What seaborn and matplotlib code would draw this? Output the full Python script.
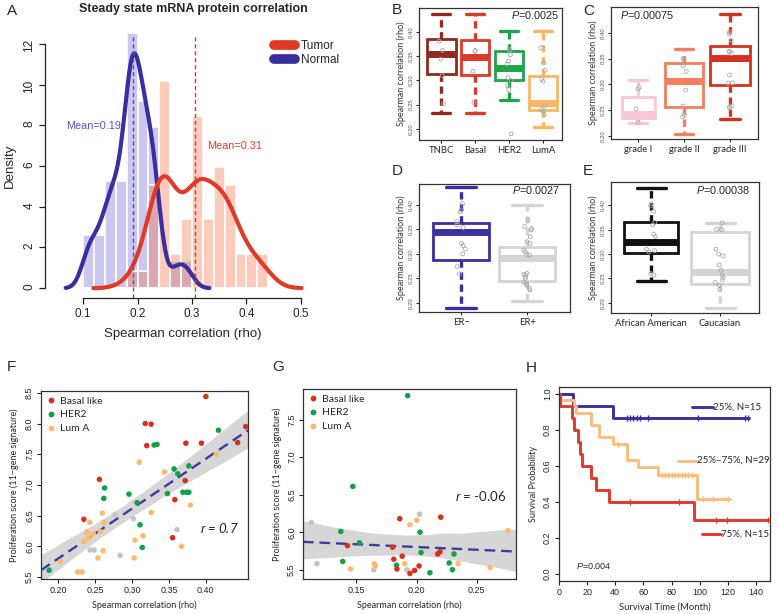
"""Painel de figuras: correlação mRNA-proteína, boxplots por subtipo, regressões e curvas de sobrevida."""

import matplotlib
matplotlib.use("Agg")
import matplotlib.pyplot as plt
from matplotlib.lines import Line2D
import numpy as np
import pandas as pd
import seaborn as sns

# ==========================================
# DADOS
# ==========================================

# Painel A: histogramas (contagens por bin de 0.02)
hist_edges = [0.10, 0.12, 0.14, 0.16, 0.18, 0.20, 0.22, 0.24, 0.26,
              0.28, 0.30, 0.32, 0.34, 0.36, 0.38, 0.40, 0.42, 0.44]
tumor_counts = [0, 0, 0, 0, 1, 1, 6, 12, 2, 4, 10, 4, 7, 6, 2, 2, 2]
normal_counts = [2, 2, 4, 4, 11, 7, 6, 0, 1, 1, 0, 0, 0, 0, 0, 0, 0]

# Painel B: subtipos
B_groups = ["TNBC", "Basal", "HER2", "LumA"]
B_q1 = [0.314, 0.312, 0.300, 0.2385]
B_med = [0.355, 0.348, 0.326, 0.254]
B_q3 = [0.386, 0.383, 0.360, 0.309]
B_lo = [0.233, 0.233, 0.259, 0.204]
B_hi = [0.438, 0.438, 0.403, 0.401]
B_points = [
    [0.381, 0.362, 0.344, 0.310, 0.252],
    [0.362, 0.360, 0.319, 0.254],
    [0.365, 0.362, 0.353, 0.340, 0.334, 0.306, 0.300, 0.289, 0.281, 0.190],
    [0.367, 0.336, 0.321, 0.302, 0.298, 0.247, 0.240, 0.236, 0.230],
]

# Painel C: grau
C_groups = ["grade I", "grade II", "grade III"]
C_q1 = [0.234, 0.256, 0.298]
C_med = [0.242, 0.307, 0.352]
C_q3 = [0.275, 0.342, 0.374]
C_lo = [0.226, 0.204, 0.2335]
C_hi = [0.308, 0.368, 0.436]
C_points = [
    [0.294, 0.291, 0.252, 0.226],
    [0.350, 0.348, 0.336, 0.325, 0.289, 0.258, 0.240, 0.237],
    [0.402, 0.398, 0.386, 0.364, 0.363, 0.360, 0.318, 0.303, 0.302, 0.258, 0.256, 0.254],
]

# Painel D: receptor de estrogénio
D_groups = ["ER\u2212", "ER+"]
D_q1 = [0.287, 0.2444]
D_med = [0.344, 0.291]
D_q3 = [0.3625, 0.3147]
D_lo = [0.190, 0.204]
D_hi = [0.436, 0.400]
D_points = [
    [0.403, 0.390, 0.386, 0.366, 0.359, 0.354, 0.3215, 0.317, 0.310, 0.300, 0.274, 0.259],
    [0.369, 0.356, 0.352, 0.349, 0.335, 0.325, 0.3215, 0.308, 0.304, 0.299, 0.298,
     0.260, 0.258, 0.257, 0.253, 0.250, 0.242, 0.2396, 0.236, 0.229, 0.226],
]

# Painel E: etnia
E_groups = ["African American", "Caucasian"]
E_q1 = [0.303, 0.238]
E_med = [0.324, 0.264]
E_q3 = [0.3656, 0.345]
E_lo = [0.245, 0.190]
E_hi = [0.436, 0.3636]
E_points = [
    [0.403, 0.399, 0.388, 0.365, 0.360, 0.341, 0.336, 0.310, 0.307, 0.3045, 0.260, 0.257],
    [0.3636, 0.351, 0.350, 0.310, 0.300, 0.296, 0.278, 0.267, 0.257, 0.252, 0.247, 0.242, 0.236, 0.2275],
]

# Painel F: proliferação vs correlação (tumor)
F_basal_x = [0.400, 0.454, 0.318, 0.326, 0.320, 0.373, 0.394, 0.443, 0.372, 0.256, 0.358, 0.235, 0.355]
F_basal_y = [8.44, 7.95, 8.00, 7.99, 7.64, 7.68, 7.68, 7.69, 7.07, 7.09, 6.76, 6.44, 6.14]
F_her2_x = [0.417, 0.330, 0.334, 0.357, 0.362, 0.377, 0.263, 0.262, 0.296, 0.307, 0.348,
            0.369, 0.374, 0.377, 0.311, 0.314, 0.188]
F_her2_y = [7.89, 7.65, 7.66, 7.26, 7.18, 7.31, 6.95, 6.78, 6.85, 6.71, 6.86,
            6.88, 6.88, 6.88, 6.35, 5.98, 5.61]
F_luma_x = [0.310, 0.344, 0.414, 0.379, 0.326, 0.260, 0.262, 0.243, 0.257, 0.239, 0.247,
            0.241, 0.236, 0.304, 0.315, 0.261, 0.254, 0.303, 0.367, 0.203, 0.2265, 0.2325]
F_luma_y = [7.37, 7.21, 7.50, 6.67, 6.55, 6.54, 6.39, 6.39, 6.24, 6.23, 6.20,
            6.13, 6.08, 6.10, 6.17, 5.93, 5.81, 5.81, 6.00, 5.75, 5.58, 5.58]
F_other_x = [0.277, 0.302, 0.361, 0.2435, 0.249, 0.284]
F_other_y = [6.52, 6.45, 6.27, 5.94, 5.94, 5.85]

# Painel G: proliferação vs correlação (normal)
G_basal_x = [0.1425, 0.180, 0.181, 0.188, 0.1836, 0.186, 0.1944, 0.1983, 0.202, 0.2175, 0.2194, 0.220]
G_basal_y = [5.82, 5.80, 5.64, 5.68, 5.51, 6.18, 5.45, 5.49, 5.55, 5.71, 5.74, 6.20]
G_her2_x = [0.1925, 0.147, 0.137, 0.1525, 0.1386, 0.1833, 0.2028, 0.2036, 0.211, 0.227, 0.231, 0.2297]
G_her2_y = [7.82, 6.61, 6.01, 5.86, 5.61, 5.56, 6.00, 5.73, 5.46, 5.59, 5.71, 5.50]
G_luma_x = [0.1944, 0.200, 0.1647, 0.1656, 0.145, 0.190, 0.2344, 0.261, 0.2758]
G_luma_y = [6.10, 6.16, 5.58, 5.55, 5.51, 5.58, 5.58, 5.53, 6.02]
G_other_x = [0.1125, 0.1172, 0.1644, 0.1919, 0.2025]
G_other_y = [6.13, 5.58, 5.50, 5.50, 6.24]

# Painel H: Kaplan-Meier
km_low_t = [0, 10.2, 38.2, 135.3]
km_low_s = [1.0, 0.933, 0.867, 0.867]
km_low_cens = [48.1, 50.5, 52.6, 55.2, 57.6, 63.2, 98.8, 132.2, 134.4]
km_mid_t = [0, 1.0, 10.4, 12.3, 22.8, 28.5, 38.6, 48.1, 56.4, 70.6, 97.9, 121.6]
km_mid_s = [1.0, 0.966, 0.931, 0.897, 0.826, 0.759, 0.724, 0.633, 0.592, 0.549, 0.413, 0.413]
km_mid_cens = [42.2, 73.0, 75.4, 77.7, 80.0, 82.4, 84.8, 87.1, 89.5, 91.9, 94.2, 102.6, 109.7, 120.4]
km_high_t = [0, 0.4, 9.0, 10.7, 13.5, 15.2, 16.4, 23.0, 26.6, 35.8, 96.0, 148.6]
km_high_s = [1.0, 0.933, 0.867, 0.8, 0.733, 0.667, 0.6, 0.533, 0.467, 0.4, 0.3, 0.3]
km_high_cens = [50.5, 85.3, 111.4, 119.7, 148.6]

# ==========================================
# ESTILO
# ==========================================

sns.set_theme(style="ticks")
plt.rcParams["font.family"] = ["Liberation Sans", "DejaVu Sans"]
plt.rcParams["mathtext.fontset"] = "custom"
plt.rcParams["mathtext.rm"] = "Liberation Sans"
plt.rcParams["mathtext.it"] = "Liberation Sans:italic"
MYRIAD = ["Lato", "DejaVu Sans"]

AZUL = "#3B2F9F"
VERMELHO = "#E03A26"
np.random.seed(7)

W, H = 778, 614
fig = plt.figure(figsize=(W / 100, H / 100), dpi=100, facecolor="white")


def add_ax(x0, y0, x1, y1):
    return fig.add_axes([x0 / W, 1 - y1 / H, (x1 - x0) / W, (y1 - y0) / H])


def letra(x, y, s):
    fig.text(x / W, 1 - y / H, s, fontsize=11, ha="left", va="center")


def moldura(ax, lw=0.9):
    for sp in ax.spines.values():
        sp.set_visible(True)
        sp.set_linewidth(lw)
        sp.set_color("#333333")


# ==========================================
# PAINEL A
# ==========================================

axA = add_ax(45, 34, 320, 298)
edges = np.array(hist_edges)
mids = (edges[:-1] + edges[1:]) / 2
tumor = np.repeat(mids, tumor_counts)
normal = np.repeat(mids, normal_counts)

sns.histplot(x=normal, bins=edges, stat="density", color="#6B5FD8", alpha=0.35,
             edgecolor="white", linewidth=1.2, ax=axA)
sns.histplot(x=tumor, bins=edges, stat="density", color="#F86A3E", alpha=0.35,
             edgecolor="white", linewidth=1.2, ax=axA)
sns.kdeplot(x=normal, bw_adjust=0.74, color=AZUL, lw=3, ax=axA)
sns.kdeplot(x=tumor, bw_adjust=0.9, color=VERMELHO, lw=3, ax=axA)
axA.axvline(normal.mean(), color="#5B4DC8", lw=1, ls=(0, (3, 2)))
axA.axvline(tumor.mean(), color=VERMELHO, lw=1, ls=(0, (3, 2)))
axA.text(0.12, 7.95, f"Mean={normal.mean():.2f}", color="#5B4DC8", fontsize=7.8, ha="center", va="center")
axA.text(0.378, 7.0, f"Mean={tumor.mean():.2f}", color=VERMELHO, fontsize=7.8, ha="center", va="center")

axA.set_xlim(0.03, 0.535)
axA.set_ylim(-0.48, 12.48)
for lado in ["top", "right"]:
    axA.spines[lado].set_visible(False)
axA.spines["left"].set_bounds(0, 12)
axA.spines["bottom"].set_bounds(0.1, 0.5)
for lado in ["left", "bottom"]:
    axA.spines[lado].set_linewidth(0.9)
    axA.spines[lado].set_color("#222222")
axA.set_xticks([0.1, 0.2, 0.3, 0.4, 0.5])
axA.set_yticks([0, 2, 4, 6, 8, 10, 12])
axA.tick_params(axis="both", length=4, width=0.9, labelsize=8.5, colors="#222222", pad=3)
axA.tick_params(axis="y", labelrotation=90)
axA.set_xlabel("Spearman correlation (rho)", fontsize=9.5, labelpad=6)
axA.set_ylabel("Density", fontsize=9.5, labelpad=5)

handles = [Line2D([], [], color=VERMELHO, lw=7, solid_capstyle="round"),
           Line2D([], [], color=AZUL, lw=7, solid_capstyle="round")]
axA.legend(handles, ["Tumor", "Normal"], loc="upper left", frameon=False, fontsize=8.5,
           bbox_to_anchor=(274 / W, 1 - 40 / H), bbox_transform=fig.transFigure,
           borderpad=0, borderaxespad=0, handlelength=1.8, handletextpad=0.5, labelspacing=0.2)

fig.text(193 / W, 1 - 9 / H, "Steady state mRNA protein correlation", fontsize=9,
         fontweight="bold", ha="center", va="center")
letra(7, 11, "A")


# ==========================================
# PAINÉIS B-E
# ==========================================

def painel_box(ax, grupos, q1, med, q3, lo, hi, pontos, cores, larguras, capw,
               xlim, ylim, pval, p_xy, p_ha):
    df = pd.DataFrame({
        "grupo": np.repeat(grupos, [len(p) for p in pontos]),
        "rho": np.concatenate(pontos),
    })
    sns.stripplot(data=df, x="grupo", y="rho", order=grupos, color="#aaaaaa",
                  size=2.8, jitter=0.07, ax=ax, zorder=5)
    for coll in ax.collections:
        coll.set_facecolor("none")
        coll.set_edgecolor("#a9a9a9")
        coll.set_linewidth(0.6)

    stats = [dict(med=m, q1=a, q3=b, whislo=l, whishi=h, fliers=[])
             for m, a, b, l, h in zip(med, q1, q3, lo, hi)]
    bp = ax.bxp(stats, positions=range(len(grupos)), widths=larguras, capwidths=capw,
                patch_artist=True, manage_ticks=False, showfliers=False)
    for i, c in enumerate(cores):
        bp["boxes"][i].set(facecolor="white", edgecolor=c, linewidth=2.0)
        bp["medians"][i].set(color=c, linewidth=5, solid_capstyle="butt")
        for w in bp["whiskers"][2 * i:2 * i + 2]:
            w.set(color=c, linewidth=2.4, linestyle=(0, (2.2, 1.4)))
        for cp in bp["caps"][2 * i:2 * i + 2]:
            cp.set(color=c, linewidth=2.4)

    ax.set_xlim(*xlim)
    ax.set_ylim(*ylim)
    ax.set_xticks(range(len(grupos)))
    ax.set_xticklabels(grupos, fontsize=6.8, family=MYRIAD)
    ax.set_yticks([0.20, 0.25, 0.30, 0.35, 0.40])
    ax.set_yticklabels(["0.20", "0.25", "0.30", "0.35", "0.40"], fontsize=4.3,
                       color="#555555", rotation=90, va="center")
    ax.tick_params(axis="both", length=2.5, width=0.8, pad=1.5)
    ax.set_xlabel("")
    ax.set_ylabel("Spearman correlation (rho)", fontsize=6.5, family=MYRIAD, labelpad=2, color="#333333")
    moldura(ax)
    ax.text(p_xy[0], p_xy[1], "$P$=" + pval, transform=ax.transAxes, fontsize=7.8,
            ha=p_ha, va="center")


axB = add_ax(419, 8, 562, 140)
painel_box(axB, B_groups, B_q1, B_med, B_q3, B_lo, B_hi, B_points,
           ["#8C2B1E", "#DA3A2C", "#1FA34A", "#F9B664"], 0.85, 0.53,
           (-0.65, 3.56), (0.177, 0.4495), "0.0025", (0.985, 0.945), "right")
letra(392, 10, "B")

axC = add_ax(611, 7, 758, 139)
painel_box(axC, C_groups, C_q1, C_med, C_q3, C_lo, C_hi, C_points,
           ["#F8C8D4", "#F2805F", "#D6301E"], [0.72, 0.83, 0.85], [0.4, 0.4, 0.43],
           (-0.59, 2.61), (0.194, 0.45), "0.00075", (0.06, 0.94), "left")
letra(583, 11, "C")

axD = add_ax(419, 184, 570, 312)
painel_box(axD, D_groups, D_q1, D_med, D_q3, D_lo, D_hi, D_points,
           [AZUL, "#D4D4D4"], 0.85, 0.45,
           (-0.64, 1.65), (0.181, 0.443), "0.0027", (0.935, 0.95), "right")
letra(392, 171, "D")

axE = add_ax(611, 182, 759, 313)
painel_box(axE, E_groups, E_q1, E_med, E_q3, E_lo, E_hi, E_points,
           ["#111111", "#D4D4D4"], [0.78, 0.83], 0.42,
           (-0.58, 1.565), (0.179, 0.448), "0.00038", (0.94, 0.94), "right")
letra(583, 171, "E")


# ==========================================
# PAINÉIS F-G
# ==========================================

CORES_GRUPO = {"Basal like": "#D7301F", "HER2": "#12A04A", "Lum A": "#FDBA6F", "other": "#C4C4C4"}


def painel_disp(ax, grupos_xy, xlim, ylim, xt, yt, r_txt, r_xy, seed):
    ax.set_xlim(*xlim)
    ax.set_ylim(*ylim)
    todos_x = np.concatenate([g[0] for g in grupos_xy.values()])
    todos_y = np.concatenate([g[1] for g in grupos_xy.values()])
    sns.regplot(x=todos_x, y=todos_y, scatter=False, truncate=False, ci=95, seed=seed,
                line_kws=dict(color="#3B3BA0", lw=1.7, ls=(0, (4.5, 2.5))), ax=ax)
    for coll in ax.collections:
        coll.set_facecolor("#D6D6D6")
        coll.set_alpha(1)
        coll.set_edgecolor("none")
        coll.set_zorder(0)
    for nome in ["other", "Lum A", "HER2", "Basal like"]:
        gx, gy = grupos_xy[nome]
        sns.scatterplot(x=gx, y=gy, color=CORES_GRUPO[nome], s=16, edgecolor="none",
                        ax=ax, zorder=3, legend=False)
    ax.set_xlim(*xlim)
    ax.set_ylim(*ylim)
    ax.set_xticks(xt)
    ax.set_xticklabels([f"{v:.2f}" for v in xt], fontsize=6.5)
    ax.set_yticks(yt)
    ax.set_yticklabels([f"{v:.1f}" for v in yt], fontsize=6.5, rotation=90, va="center")
    ax.tick_params(axis="both", length=3, width=0.8, pad=2, colors="#222222")
    ax.set_xlabel("Spearman correlation (rho)", fontsize=6.5, family=MYRIAD, labelpad=4)
    ax.set_ylabel("Proliferation score (11\u2212gene signature)", fontsize=6.5,
                  family=MYRIAD, labelpad=4)
    moldura(ax)
    hs = [Line2D([], [], ls="", marker="o", markersize=4.2, markeredgewidth=0,
                 color=CORES_GRUPO[n]) for n in ["Basal like", "HER2", "Lum A"]]
    ax.legend(hs, ["Basal like", "HER2", "Lum A"], loc="upper left", frameon=False,
              prop=dict(family=MYRIAD, size=7.5), handlelength=1.0, handletextpad=0.3,
              labelspacing=0.45, borderaxespad=0.3, borderpad=0.2)
    ax.text(r_xy[0], r_xy[1], r_txt, fontsize=9.5, family=MYRIAD, ha="left", va="center")


axF = add_ax(41, 391, 248, 579)
painel_disp(axF, {"Basal like": (F_basal_x, F_basal_y), "HER2": (F_her2_x, F_her2_y),
                  "Lum A": (F_luma_x, F_luma_y), "other": (F_other_x, F_other_y)},
            (0.177, 0.457), (5.467, 8.53), [0.20, 0.25, 0.30, 0.35, 0.40],
            [5.5, 6.0, 6.5, 7.0, 7.5, 8.0, 8.5], r"$r$ = 0.7", (0.392, 6.3), 11)
for t in axF.texts:
    t.set_style("italic")
letra(7, 367, "F")

axG = add_ax(303, 389, 516, 579)
painel_disp(axG, {"Basal like": (G_basal_x, G_basal_y), "HER2": (G_her2_x, G_her2_y),
                  "Lum A": (G_luma_x, G_luma_y), "other": (G_other_x, G_other_y)},
            (0.1056, 0.2825), (5.376, 7.909), [0.15, 0.20, 0.25],
            [5.5, 6.0, 6.5, 7.0, 7.5], r"$r$ = -0.06", (0.232, 6.48), 5)
letra(272, 367, "G")


# ==========================================
# PAINEL H
# ==========================================

axH = add_ax(559, 387, 770, 581)
curvas = [
    (km_low_t, km_low_s, km_low_cens, AZUL),
    (km_mid_t, km_mid_s, km_mid_cens, "#FBBE7C"),
    (km_high_t, km_high_s, km_high_cens, "#E0392B"),
]
for t, s, cens, c in curvas:
    sns.lineplot(x=t, y=s, drawstyle="steps-post", color=c, lw=2.1, ax=axH)
    idx = np.searchsorted(t, cens, side="right") - 1
    axH.plot(cens, np.asarray(s)[idx], ls="", marker="|", ms=4, mew=1, color=c)

rotulos = [("25%, N=15", AZUL, 94.8, 109.7, 0.927),
           ("25%\u201375%, N=29", "#FBBE7C", 84.4, 97.9, 0.629),
           ("75%, N=15", "#E0392B", 101.9, 114.9, 0.22)]
for txt, c, xa, xb, yy in rotulos:
    axH.plot([xa, xb], [yy, yy], color=c, lw=2.1)
    axH.text(xb, yy, txt, fontsize=7, family=MYRIAD, ha="left", va="center")
axH.text(12, 0.04, "$P$=0.004", fontsize=6.5, ha="left", va="center")

axH.set_xlim(0, 150)
axH.set_ylim(-0.041, 1.039)
axH.set_xticks(range(0, 141, 20))
axH.set_xticklabels([str(v) for v in range(0, 141, 20)], fontsize=6.5)
axH.set_yticks([0, 0.2, 0.4, 0.6, 0.8, 1.0])
axH.set_yticklabels(["0.0", "0.2", "0.4", "0.6", "0.8", "1.0"], fontsize=6.5, rotation=90, va="center")
axH.tick_params(axis="both", length=3, width=0.8, pad=2, colors="#222222")
axH.set_xlabel("Survival Time (Month)", fontsize=6.8, family=MYRIAD, labelpad=4)
axH.set_ylabel("Survival Probability", fontsize=6.5, family=MYRIAD, labelpad=4)
moldura(axH)
letra(526, 368, "H")

fig.savefig("out.png", dpi=100, facecolor="white")
